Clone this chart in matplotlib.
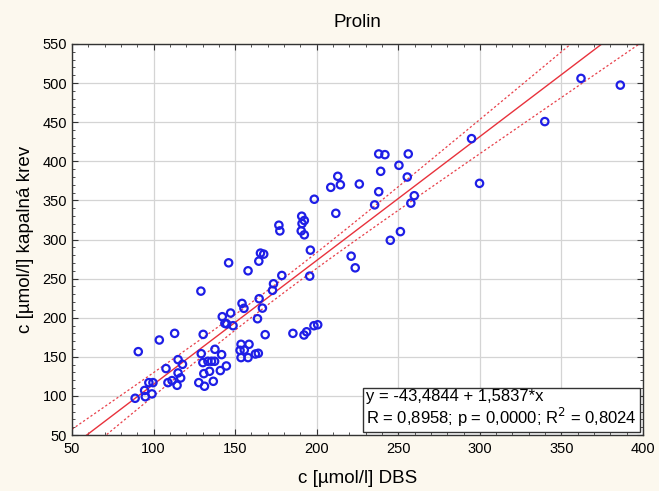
import numpy as np
import matplotlib
matplotlib.use("Agg")
import matplotlib.pyplot as plt
from matplotlib.ticker import MultipleLocator

plt.rcParams['font.family'] = ['Liberation Sans', 'DejaVu Sans']

# data
dbs = [88.7, 90.6, 94.5, 94.9, 97.1, 99.6, 99.0, 103.5, 107.6, 108.8,
       111.3, 112.9, 114.4, 115.0, 115.0, 116.6, 117.7, 129.0, 129.2, 127.7,
       130.4, 130.2, 130.8, 131.2, 133.3, 134.3, 135.5, 137.4, 136.6, 137.6,
       141.7, 140.9, 142.1, 144.6, 143.7, 144.8, 146.0, 147.2, 148.7, 153.6,
       153.0, 154.2, 155.4, 155.6, 153.6, 157.9, 158.5, 157.9, 162.4, 164.2,
       163.7, 164.5, 164.7, 165.5, 167.5, 166.7, 168.4, 172.9, 173.5, 178.6,
       176.8, 177.4, 185.4, 190.8, 191.0, 192.4, 190.5, 192.4, 192.2, 193.8,
       196.1, 195.7, 198.3, 200.6, 198.5, 211.7, 221.1, 223.6, 208.6, 212.9,
       214.5, 226.1, 238.0, 241.8, 256.1, 250.4, 239.2, 255.5, 238.0, 235.5,
       259.8, 257.7, 245.1, 251.3, 294.9, 299.8, 339.8, 362.0, 386.1]
krev = [97, 156.6, 107, 99, 117, 117, 102.6, 171.5, 135, 117,
        119.6, 180, 113.6, 146.4, 129.4, 123, 140.4, 234, 154, 117,
        178.7, 142.6, 128.5, 112.4, 144.3, 131.5, 144.3, 144.3, 118.7, 159.6,
        152.8, 132.4, 201.3, 138.3, 192.8, 192, 270.2, 206, 189.8, 166,
        158.3, 218.3, 212, 158.7, 149, 149, 166, 260, 153.6, 154.5,
        198.7, 272.3, 224.3, 282.6, 281.3, 212.3, 178.3, 235, 243.4, 254,
        318.3, 311, 180, 329.8, 320.4, 324.3, 311, 306, 177.9, 182,
        286.4, 253.2, 189.8, 191, 351.5, 333.5, 278.7, 263.8, 366.7, 380.8,
        370, 370.9, 409.4, 408.5, 409.4, 394.9, 387.2, 379.9, 361.1, 344.3,
        356, 346.5, 299, 310.1, 429, 371.8, 450.8, 506, 497.4]

intercept = -43.4844
slope = 1.5837

x = np.array(dbs)
y = np.array(krev)
n = len(x)
resid = y - (intercept + slope * x)
s = np.sqrt(np.sum(resid ** 2) / (n - 2))
sxx = np.sum((x - x.mean()) ** 2)
t = 1.984

xs = np.linspace(50, 400, 300)
yfit = intercept + slope * xs
hw = t * s * np.sqrt(1.0 / n + (xs - x.mean()) ** 2 / sxx)

bg = '#FCF8EE'
fig = plt.figure(figsize=(6.59, 4.91), dpi=100, facecolor=bg)
ax = fig.add_axes([0.1093, 0.114, 0.8664, 0.7964])
ax.set_facecolor('white')

ax.grid(True, which='major', color='#D4D4D4', linewidth=0.9)
ax.set_axisbelow(True)

ax.plot(xs, yfit, color='#E8323C', linewidth=1.0, zorder=2)
ax.plot(xs, yfit + hw, color='#E8404A', linewidth=0.9, linestyle=(0, (1.8, 1.8)), zorder=2)
ax.plot(xs, yfit - hw, color='#E8404A', linewidth=0.9, linestyle=(0, (1.8, 1.8)), zorder=2)

ax.scatter(x, y, s=28, facecolors='none', edgecolors='#1E1EE6', linewidths=1.6, zorder=3)

ax.set_xlim(50, 400)
ax.set_ylim(50, 550)
ax.xaxis.set_major_locator(MultipleLocator(50))
ax.xaxis.set_minor_locator(MultipleLocator(10))
ax.yaxis.set_major_locator(MultipleLocator(50))
ax.yaxis.set_minor_locator(MultipleLocator(10))
ax.tick_params(which='both', direction='in', top=True, right=True, labelsize=10.5,
               color='#333333')
ax.tick_params(which='major', length=4)
ax.tick_params(which='minor', length=2.5)
ax.tick_params(axis='x', pad=5)
for sp in ax.spines.values():
    sp.set_color('#333333')
    sp.set_linewidth(1.0)

ax.set_title('Prolin', fontsize=13.5, pad=12)
ax.set_xlabel('c [µmol/l] DBS', fontsize=13.5, labelpad=10)
ax.set_ylabel('c [µmol/l] kapalná krev', fontsize=13.5, labelpad=6)

ax.text(0.9895, 0.016, 'y = -43,4844 + 1,5837*x\nR = 0,8958; p = 0,0000; R$^2$ = 0,8024',
        transform=ax.transAxes, fontsize=12, ha='right', va='bottom', linespacing=1.1,
        multialignment='left',
        bbox=dict(boxstyle='square,pad=0.2', facecolor='white', edgecolor='#333333',
                  linewidth=1.0), zorder=5)

fig.savefig('out.png', dpi=100, facecolor=bg)
